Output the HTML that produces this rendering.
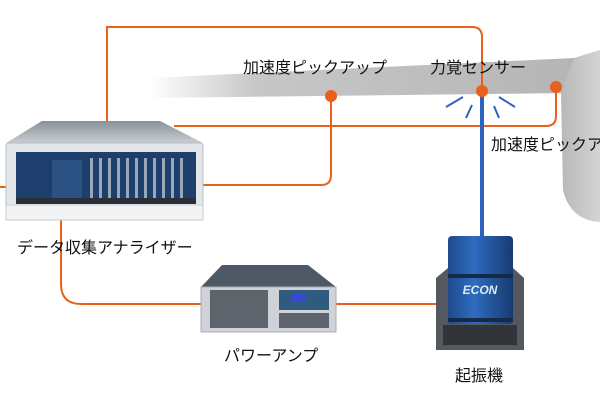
<!DOCTYPE html>
<html><head><meta charset="utf-8"><style>
html,body{margin:0;padding:0;background:#fff;}
svg{display:block}
text{font-family:"Liberation Sans","Noto Sans CJK JP",sans-serif;font-size:16px;fill:#111}
</style></head><body>
<svg width="600" height="400" viewBox="0 0 600 400" xmlns="http://www.w3.org/2000/svg">
<defs>
<linearGradient id="beam" x1="0" x2="1" y1="0" y2="0">
<stop offset="0" stop-color="#bdbdbd" stop-opacity="0"/>
<stop offset="0.25" stop-color="#bdbdbd" stop-opacity="0.85"/>
<stop offset="1" stop-color="#b5b5b5"/>
</linearGradient>
<linearGradient id="rs" x1="0" x2="1">
<stop offset="0" stop-color="#b8b8b8"/><stop offset="1" stop-color="#d4d4d4"/>
</linearGradient>
<linearGradient id="cyl" x1="0" x2="1">
<stop offset="0" stop-color="#1d4a8a"/><stop offset="0.4" stop-color="#2f6cc0"/><stop offset="1" stop-color="#173a70"/>
</linearGradient>
<linearGradient id="top" x1="0" x2="0" y1="0" y2="1">
<stop offset="0" stop-color="#8a9099"/><stop offset="1" stop-color="#c9ced4"/>
</linearGradient>
</defs>
<polygon points="150,78 574,58 574,93 150,98" fill="url(#beam)"/>
<path d="M574,58 L600,50 L600,222 Q570,220 563,190 L561,93 Z" fill="url(#rs)"/>
<g fill="none" stroke="#e8601c" stroke-width="2">
<path d="M107,121 V27 H472 Q482,27 482,37 V91"/>
<path d="M331,96 V175 Q331,185 321,185 H199"/>
<path d="M556,87 V116 Q556,126 546,126 H174"/>
<path d="M0,187 H8"/>
<path d="M61,220 V284 Q61,304 81,304 H201"/>
<path d="M336,304 H436"/>
</g>
<rect x="480" y="92" width="4" height="145" fill="#2d62c0"/>
<g stroke="#2d62c0" stroke-width="2">
<line x1="446" y1="107" x2="463" y2="97"/><line x1="466" y1="118" x2="472" y2="105"/>
<line x1="494" y1="106" x2="499" y2="118"/><line x1="499" y1="97" x2="515" y2="107"/>
</g>
<g fill="#e8601c"><circle cx="331" cy="96" r="6"/><circle cx="556" cy="87" r="6"/><circle cx="482" cy="91" r="6"/></g>
<polygon points="42,121 160,121 203,143 6,143" fill="url(#top)"/>
<rect x="6" y="143" width="197" height="77" rx="3" fill="#e4e7ea" stroke="#b8bcc2"/>
<rect x="16" y="152" width="180" height="50" fill="#1e3f6e"/>
<rect x="52" y="160" width="30" height="40" fill="#2b5283"/>
<g fill="#9aa7b8">
<rect x="90" y="158" width="3" height="42"/><rect x="99" y="158" width="3" height="42"/><rect x="108" y="158" width="3" height="42"/><rect x="117" y="158" width="3" height="42"/><rect x="126" y="158" width="3" height="42"/><rect x="135" y="158" width="3" height="42"/><rect x="144" y="158" width="3" height="42"/><rect x="153" y="158" width="3" height="42"/><rect x="162" y="158" width="3" height="42"/><rect x="171" y="158" width="3" height="42"/><rect x="180" y="158" width="3" height="42"/>
</g>
<rect x="16" y="198" width="180" height="6" fill="#2a2f36"/>
<rect x="6" y="205" width="197" height="15" fill="#f2f3f5" stroke="#c8ccd0"/>
<polygon points="222,265 308,265 336,287 201,287" fill="#4e5966"/>
<rect x="201" y="287" width="135" height="45" fill="#cfd3d8" stroke="#a9aeb5"/>
<rect x="210" y="290" width="58" height="38" fill="#5d646c"/>
<rect x="279" y="290" width="50" height="20" fill="#2f5c7e"/>
<rect x="292" y="294" width="14" height="8" fill="#3a4ad0"/>
<rect x="279" y="313" width="50" height="15" fill="#5d646c"/>
<polygon points="436,278 448,268 513,268 524,278 524,350 436,350" fill="#55595f"/>
<rect x="443" y="325" width="74" height="20" fill="#31353a"/>
<rect x="448" y="236" width="65" height="88" rx="4" fill="url(#cyl)"/>
<rect x="448" y="274" width="65" height="4" fill="#152a48"/>
<rect x="448" y="318" width="65" height="4" fill="#152a48"/>
<text x="480" y="294" text-anchor="middle" style="font-size:12px;font-weight:bold;font-style:italic;fill:#dfe8f5">ECON</text>
<text x="243" y="73">加速度ピックアップ</text>
<text x="430" y="73">力覚センサー</text>
<text x="491" y="150">加速度ピックアップ</text>
<text x="17" y="253">データ収集アナライザー</text>
<text x="224" y="361">パワーアンプ</text>
<text x="455" y="381">起振機</text>
</svg>
</body></html>
